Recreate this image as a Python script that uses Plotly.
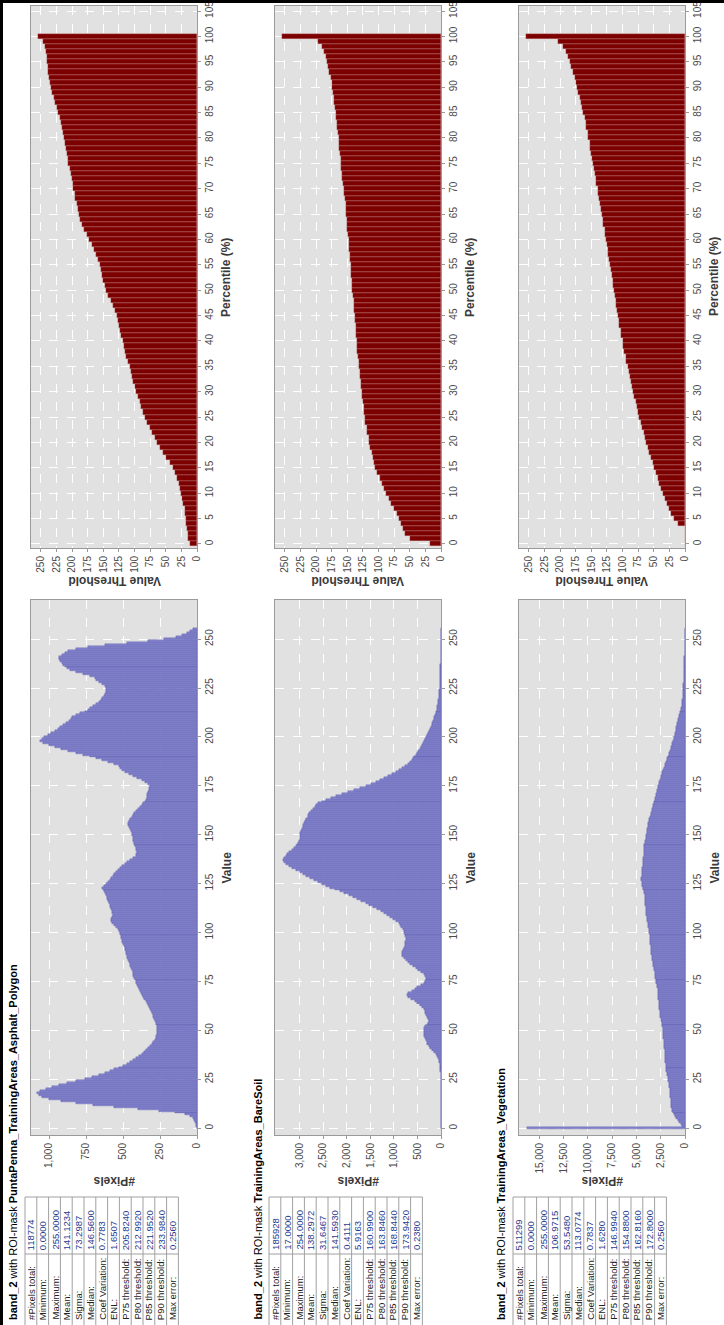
import plotly.graph_objects as go

# ---------------- DATA ----------------
values = list(range(256))
percentiles = list(range(101))

asphalt_hist = [
    2, 5, 8, 12, 18, 30, 45, 80, 150, 260,
    400, 560, 700, 820, 920, 1000, 1050, 1070, 1080, 1060,
    1020, 980, 930, 880, 820, 760, 710, 660, 620, 590,
    560, 530, 500, 470, 450, 430, 410, 390, 375, 360,
    345, 330, 320, 305, 295, 285, 280, 275, 272, 270,
    268, 270, 272, 275, 280, 285, 290, 295, 300, 305,
    310, 318, 325, 332, 340, 348, 355, 362, 370, 378,
    385, 392, 400, 405, 410, 415, 420, 425, 430, 432,
    435, 440, 445, 450, 455, 460, 465, 470, 475, 478,
    480, 485, 490, 495, 500, 505, 510, 512, 515, 518,
    520, 525, 535, 545, 560, 575, 580, 578, 575, 570,
    572, 575, 580, 585, 590, 595, 600, 605, 610, 615,
    620, 628, 635, 640, 630, 615, 600, 590, 580, 570,
    560, 548, 535, 520, 505, 490, 470, 450, 430, 415,
    410, 408, 410, 415, 420, 425, 428, 430, 432, 435,
    438, 442, 448, 455, 462, 468, 465, 458, 450, 442,
    435, 425, 412, 400, 388, 375, 362, 352, 345, 340,
    338, 335, 330, 325, 322, 320, 330, 350, 375, 405,
    435, 460, 485, 505, 520, 530, 560, 600, 640, 680,
    720, 770, 820, 870, 920, 960, 1000, 1040, 1060, 1050,
    1035, 1010, 985, 960, 940, 925, 905, 885, 865, 855,
    845, 820, 790, 760, 735, 720, 700, 680, 665, 650,
    640, 630, 625, 618, 615, 618, 625, 640, 660, 680,
    690, 720, 770, 820, 860, 880, 895, 905, 915, 925,
    935, 930, 915, 895, 870, 820, 740, 620, 470, 330,
    220, 140, 100, 70, 50, 30,
]

baresoil_hist = [
    0, 0, 0, 0, 0, 0, 0, 0, 0, 0,
    0, 0, 0, 0, 0, 0, 0, 1, 1, 2,
    2, 3, 3, 4, 5, 6, 7, 8, 10, 12,
    15, 18, 22, 28, 35, 45, 60, 80, 110, 150,
    190, 230, 260, 290, 300, 320, 340, 360, 365, 370,
    368, 360, 340, 300, 270, 260, 270, 290, 310, 330,
    340, 370, 410, 450, 500, 560, 640, 710, 720, 690,
    620, 560, 500, 430, 360, 330, 320, 325, 330, 360,
    420, 490, 540, 600, 650, 690, 740, 790, 820, 830,
    825, 810, 790, 770, 760, 755, 750, 752, 758, 765,
    775, 790, 810, 840, 870, 900, 950, 1010, 1080, 1140,
    1200, 1280, 1360, 1440, 1520, 1600, 1690, 1780, 1870, 1960,
    2050, 2150, 2250, 2350, 2440, 2520, 2600, 2700, 2780, 2860,
    2930, 3000, 3080, 3160, 3230, 3290, 3330, 3350, 3320, 3290,
    3270, 3220, 3160, 3110, 3080, 3060, 3040, 3020, 3000, 2990,
    2990, 2980, 2960, 2950, 2930, 2920, 2900, 2880, 2860, 2830,
    2810, 2790, 2760, 2720, 2680, 2650, 2600, 2530, 2440, 2330,
    2220, 2100, 1980, 1850, 1720, 1600, 1480, 1380, 1290, 1200,
    1120, 1040, 960, 890, 820, 760, 710, 660, 620, 590,
    570, 540, 510, 480, 455, 430, 405, 380, 355, 330,
    310, 290, 270, 250, 230, 215, 200, 185, 170, 155,
    140, 128, 116, 105, 95, 85, 76, 68, 62, 56,
    50, 45, 41, 37, 33, 30, 27, 25, 23, 21,
    19, 17, 16, 15, 14, 13, 12, 11, 10, 10,
    9, 9, 8, 8, 7, 7, 6, 6, 5, 5,
    4, 4, 3, 3, 2, 0,
]

vegetation_hist = [
    16300, 300, 450, 600, 750, 900, 1000, 1100, 1200, 1300,
    1350, 1400, 1420, 1450, 1470, 1490, 1510, 1530, 1550, 1570,
    1590, 1620, 1650, 1680, 1720, 1760, 1800, 1840, 1880, 1910,
    1930, 1950, 1970, 1990, 2010, 2030, 2050, 2070, 2080, 2090,
    2100, 2120, 2140, 2160, 2180, 2200, 2220, 2240, 2260, 2270,
    2280, 2310, 2340, 2380, 2420, 2460, 2500, 2540, 2580, 2600,
    2620, 2640, 2660, 2690, 2710, 2730, 2750, 2770, 2780, 2790,
    2800, 2830, 2870, 2910, 2950, 2990, 3030, 3070, 3100, 3120,
    3140, 3180, 3220, 3260, 3300, 3340, 3380, 3420, 3450, 3470,
    3490, 3510, 3530, 3550, 3570, 3590, 3610, 3630, 3650, 3655,
    3660, 3700, 3740, 3780, 3820, 3860, 3900, 3930, 3960, 3980,
    4000, 4020, 4040, 4060, 4080, 4100, 4120, 4140, 4160, 4170,
    4180, 4230, 4280, 4330, 4380, 4430, 4480, 4520, 4500, 4470,
    4440, 4420, 4400, 4380, 4360, 4350, 4330, 4310, 4290, 4270,
    4250, 4230, 4210, 4200, 4190, 4175, 4140, 4100, 4060, 4020,
    3980, 3950, 3910, 3870, 3840, 3820, 3770, 3720, 3660, 3600,
    3540, 3490, 3440, 3390, 3340, 3300, 3240, 3190, 3130, 3080,
    3020, 2970, 2920, 2870, 2820, 2790, 2720, 2650, 2580, 2510,
    2450, 2380, 2320, 2250, 2180, 2100, 2030, 1960, 1890, 1820,
    1750, 1680, 1610, 1540, 1480, 1415, 1350, 1290, 1230, 1170,
    1110, 1060, 1010, 960, 920, 880, 830, 780, 730, 680,
    630, 580, 530, 480, 430, 380, 350, 320, 290, 260,
    240, 225, 210, 200, 190, 180, 170, 160, 150, 140,
    130, 120, 112, 104, 96, 88, 82, 76, 70, 65,
    60, 55, 50, 46, 42, 38, 34, 30, 27, 24,
    21, 18, 15, 12, 10, 8,
]

asphalt_pct = [
    12, 14, 15, 16, 17, 18, 19, 20, 22, 24,
    25, 27, 29, 32, 35, 39, 44, 49, 54, 59,
    64, 68, 72, 76, 80, 83, 86, 89, 92, 95,
    97, 99, 102, 104, 106, 108, 110, 113, 115, 117,
    119, 121, 123, 125, 127, 129, 132, 135, 138, 142,
    146, 148, 150, 152, 154, 156, 159, 162, 165, 169,
    173, 177, 181, 184, 187, 189, 191, 193, 195, 196,
    198, 199, 200, 202, 204, 206, 207, 208, 210, 211,
    213, 214, 216, 218, 220, 222, 224, 227, 229, 232,
    234, 236, 237, 238, 239, 240, 241, 242, 244, 246,
    255,
]

baresoil_pct = [
    17, 50, 57, 61, 64, 67, 71, 75, 80, 84,
    88, 92, 95, 98, 102, 105, 107, 109, 111, 113,
    115, 116, 118, 119, 121, 122, 123, 124, 125, 126,
    127, 128, 129, 130, 130, 131, 132, 133, 134, 134,
    135, 136, 136, 137, 138, 138, 139, 140, 140, 141,
    142, 142, 143, 144, 144, 145, 146, 146, 147, 148,
    148, 149, 150, 150, 151, 152, 153, 153, 154, 155,
    156, 157, 158, 159, 160, 161, 161, 162, 163, 163,
    164, 165, 166, 167, 168, 169, 170, 171, 172, 173,
    174, 175, 177, 179, 181, 183, 185, 188, 191, 197,
    254,
]

vegetation_pct = [
    0, 0, 0, 0, 12, 18, 22, 26, 29, 32,
    35, 38, 41, 44, 47, 50, 52, 55, 57, 60,
    62, 64, 66, 69, 71, 73, 75, 77, 79, 81,
    83, 85, 87, 88, 90, 92, 94, 95, 97, 99,
    100, 102, 103, 105, 106, 108, 109, 110, 111, 112,
    113, 115, 116, 117, 119, 120, 121, 123, 124, 125,
    127, 128, 129, 131, 132, 133, 135, 136, 138, 139,
    140, 142, 143, 145, 146, 147, 149, 150, 152, 153,
    155, 156, 158, 159, 161, 163, 165, 167, 169, 171,
    173, 175, 177, 179, 182, 185, 188, 191, 196, 203,
    255,
]

mask_names = ["PuntaPenna_TrainingAreas_Asphalt_Polygon",
              "TrainingAreas_BareSoil",
              "TrainingAreas_Vegetation"]

stat_labels = ["#Pixels total:", "Minimum:", "Maximum:", "Mean:", "Sigma:",
               "Median:", "Coef Variation:", "ENL:", "P75 threshold:",
               "P80 threshold:", "P85 threshold:", "P90 threshold:", "Max error:"]
asphalt_stats = ["118774", "0.0000", "255.0000", "141.1234", "73.2987", "146.5600",
                 "0.7783", "1.6507", "205.8240", "212.9920", "221.9520", "233.9840", "0.2560"]
baresoil_stats = ["185928", "17.0000", "254.0000", "138.2972", "31.6467", "141.5930",
                  "0.4111", "5.9163", "160.9900", "163.8460", "168.8440", "173.9420", "0.2380"]
vegetation_stats = ["511299", "0.0000", "255.0000", "106.9715", "53.5480", "113.0774",
                    "0.7837", "1.6280", "146.9940", "154.8800", "162.8160", "172.8000", "0.2560"]

hist_tickvals = [[0, 250, 500, 750, 1000],
                 [0, 500, 1000, 1500, 2000, 2500, 3000],
                 [0, 2500, 5000, 7500, 10000, 12500, 15000]]
value_ticks = list(range(0, 251, 25))
pct_ticks = list(range(0, 106, 5))

hists = [asphalt_hist, baresoil_hist, vegetation_hist]
pcts = [asphalt_pct, baresoil_pct, vegetation_pct]
stats = [asphalt_stats, baresoil_stats, vegetation_stats]

# ---------------- LAYOUT HELPERS ----------------
W, H = 724, 1325
FONT = "Liberation Sans, DejaVu Sans, sans-serif"
TICKC = "#4a4a4a"
TITLEC = "#3a3a3a"
PLOTBG = "#e1e1e1"
count_tops = [1122, 3520, 17100]


def fx(x):
    return x / W


def fy(y):
    return 1 - y / H


fig = go.Figure()
layout = dict(width=W, height=H, margin=dict(l=0, r=0, t=0, b=0),
              paper_bgcolor="white", plot_bgcolor=PLOTBG, showlegend=False,
              bargap=0, font=dict(family=FONT, size=10, color=TICKC))
annotations = []
shapes = []

PCT_TOP, PCT_BOT = 6, 548
HIST_TOP, HIST_BOT = 600, 1135

for c in range(3):
    ox = 244 * c
    x0, x1 = 31 + ox, 197 + ox
    ip, ih = 2 * c + 1, 2 * c + 2

    fig.add_trace(go.Bar(
        y=percentiles, x=pcts[c], orientation="h", width=1,
        marker=dict(color="#7d0000", line=dict(color="rgba(215,160,160,0.6)", width=0.4)),
        xaxis=f"x{ip}", yaxis=f"y{ip}", hoverinfo="skip"))
    fig.add_trace(go.Bar(
        y=values, x=hists[c], orientation="h", width=1,
        marker=dict(color="#8888d0", line=dict(color="#34349c", width=0.3)),
        xaxis=f"x{ih}", yaxis=f"y{ih}", hoverinfo="skip"))

    common_axis = dict(showline=True, mirror=True, linecolor="#9a9a9a", linewidth=1,
                       showgrid=True, gridcolor="white", griddash="dash", gridwidth=1,
                       zeroline=False, ticks="outside", ticklen=3, tickcolor="#9a9a9a",
                       tickangle=-90, tickfont=dict(size=10, color=TICKC, family=FONT),
                       ticklabeloverflow="allow", automargin=False)

    layout[f"xaxis{ip}"] = dict(common_axis, domain=[fx(x0), fx(x1)], anchor=f"y{ip}",
                                range=[266, 0], tickvals=value_ticks)
    layout[f"yaxis{ip}"] = dict(common_axis, domain=[fy(PCT_BOT), fy(PCT_TOP)], anchor=f"x{ip}",
                                side="right", range=[-0.8, 106], tickvals=pct_ticks)
    layout[f"xaxis{ih}"] = dict(common_axis, domain=[fx(x0), fx(x1)], anchor=f"y{ih}",
                                range=[count_tops[c], 0], tickvals=hist_tickvals[c],
                                tickformat=",d")
    layout[f"yaxis{ih}"] = dict(common_axis, domain=[fy(HIST_BOT), fy(HIST_TOP)], anchor=f"x{ih}",
                                side="right", range=[-3.5, 270], tickvals=value_ticks)

    cx = (x0 + x1) / 2
    title_font = dict(family=FONT, size=12, color=TITLEC)
    annotations += [
        dict(text="<b>Value Threshold</b>", x=fx(cx), y=fy(581), xref="paper",
             yref="paper", showarrow=False, textangle=180, font=title_font,
             xanchor="center", yanchor="middle"),
        dict(text="<b>Percentile (%)</b>", x=fx(x1 + 29), y=fy((PCT_TOP + PCT_BOT) / 2),
             xref="paper", yref="paper", showarrow=False, textangle=-90, font=title_font,
             xanchor="center", yanchor="middle"),
        dict(text="<b>Value</b>", x=fx(x1 + 29), y=fy((HIST_TOP + HIST_BOT) / 2),
             xref="paper", yref="paper", showarrow=False, textangle=-90, font=title_font,
             xanchor="center", yanchor="middle"),
        dict(text="<b>#Pixels</b>", x=fx(cx), y=fy(1181), xref="paper", yref="paper",
             showarrow=False, textangle=180, font=title_font, xanchor="center", yanchor="middle"),
    ]

    annotations.append(dict(
        text=f"<b>band_2</b> with ROI-mask <b>{mask_names[c]}</b>",
        x=fx(ox + 13), y=fy(1322), xref="paper", yref="paper", showarrow=False,
        textangle=-90, font=dict(family=FONT, size=11, color="black"),
        xanchor="center", yanchor="bottom"))

    tx0 = ox + 25
    pitch = 11.8
    ylab_bot, ysplit, ytop = 1325, 1254, 1197
    for k, (lab, val) in enumerate(zip(stat_labels, stats[c])):
        rc = tx0 + pitch * k + pitch / 2
        annotations.append(dict(text=lab, x=fx(rc), y=fy(1322), xref="paper", yref="paper",
                                showarrow=False, textangle=-90,
                                font=dict(family=FONT, size=9.5, color="#222222"),
                                xanchor="center", yanchor="bottom"))
        annotations.append(dict(text=val, x=fx(rc), y=fy(ysplit - 2), xref="paper", yref="paper",
                                showarrow=False, textangle=-90,
                                font=dict(family=FONT, size=9.5, color="#1f3a8f"),
                                xanchor="center", yanchor="bottom"))
    for k in range(len(stat_labels) + 1):
        xx = tx0 + pitch * k
        shapes.append(dict(type="line", xref="paper", yref="paper",
                           x0=fx(xx), x1=fx(xx), y0=fy(ylab_bot), y1=fy(ytop),
                           line=dict(color="#a0a0a0", width=1)))
    for yy in (ysplit, ytop):
        shapes.append(dict(type="line", xref="paper", yref="paper",
                           x0=fx(tx0), x1=fx(tx0 + pitch * len(stat_labels)), y0=fy(yy), y1=fy(yy),
                           line=dict(color="#a0a0a0", width=1)))

# window frame
shapes.append(dict(type="line", xref="paper", yref="paper", x0=0, x1=1, y0=fy(1.5), y1=fy(1.5),
                   line=dict(color="black", width=3)))
shapes.append(dict(type="line", xref="paper", yref="paper", x0=fx(1.5), x1=fx(1.5), y0=0, y1=1,
                   line=dict(color="black", width=3)))

layout["annotations"] = annotations
layout["shapes"] = shapes
fig.update_layout(**layout)
fig.write_html("out.html", config={"displayModeBar": False},
               post_script="document.body.style.margin='0';document.body.style.overflow='hidden';")
